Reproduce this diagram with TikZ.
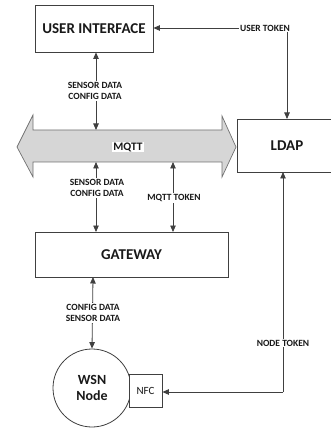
\documentclass[tikz,border=0pt]{standalone}
\usepackage{fontspec}
\setmainfont{Carlito}
\usetikzlibrary{arrows.meta}
\definecolor{ln}{HTML}{404040}
\definecolor{barfill}{HTML}{D6D6D6}
\definecolor{barline}{HTML}{707070}
\tikzset{
  box/.style={draw=ln, line width=0.8pt, fill=white, inner sep=0pt},
  conn/.style={draw=ln, line width=0.8pt},
  tip/.style={-{Triangle[length=6.5pt,width=5.5pt]}},
  dtip/.style={{Triangle[length=6.5pt,width=5.5pt]}-{Triangle[length=6.5pt,width=5.5pt]}},
  lbl/.style={font=\fontsize{9.5}{11.5}\selectfont\bfseries, text=black!90, align=center, inner sep=1pt, fill=white},
  big/.style={font=\fontsize{15}{17}\selectfont\bfseries, text=black!90}
}
\begin{document}
\begin{tikzpicture}[x=1pt,y=-1pt]
\useasboundingbox (0,0) rectangle (331,430);
\begin{scope}
\clip (0,0) rectangle (331,430);
% LDAP box (extends past right edge)
\draw[box] (237,119) rectangle (345,172);
\end{scope}
\node[big] (ldap) at (287,146) {LDAP};
\coordinate (ldapT) at (287,119);
\coordinate (ldapB) at (283,172);

% USER INTERFACE
\node[box, minimum width=118pt, minimum height=47pt, big] (ui) at (94,28.5) {USER INTERFACE};

% MQTT bar
\draw[fill=barfill, draw=barline, line width=0.7pt]
  (17,147) -- (33,115) -- (33,130) -- (222,130) -- (222,116) -- (236,147)
  -- (222,177) -- (222,162) -- (33,162) -- (33,177) -- cycle;
\node[font=\fontsize{11.5}{13}\selectfont\bfseries, fill=white, inner sep=1pt, text=black!90] (mqtt) at (128,147) {MQTT};
\coordinate (mqttTop) at (96,130);
\coordinate (mqttBotL) at (96,162);
\coordinate (mqttBotR) at (173,162);

% GATEWAY
\node[box, minimum width=193pt, minimum height=45pt, big] (gw) at (131.5,254.5) {GATEWAY};
\coordinate (gwTopL) at (96,232);
\coordinate (gwTopR) at (173,232);
\coordinate (gwBot) at (93,277);

% WSN node
\node[circle, draw=ln, line width=0.8pt, minimum size=78pt, inner sep=0pt, align=center,
  font=\fontsize{14}{16}\selectfont\bfseries, text=black!90] (wsn) at (92,388) {WSN\\Node};
\node[box, minimum width=33pt, minimum height=33pt, font=\fontsize{11}{13}\selectfont, text=black!90] (nfc) at (145.5,390.5) {NFC};

% UI <-> MQTT
\draw[conn, dtip] (ui.south -| mqttTop) -- (mqttTop);
\node[lbl] at (95,91) {SENSOR DATA\\CONFIG DATA};

% MQTT <-> GATEWAY
\draw[conn, dtip] (mqttBotL) -- (gwTopL);
\node[lbl] at (97,188) {SENSOR DATA\\CONFIG DATA};
\draw[conn, dtip] (mqttBotR) -- (gwTopR);
\node[lbl] at (174,198) {MQTT TOKEN};

% GATEWAY <-> WSN
\draw[conn, dtip] (gwBot) -- (wsn.north);
\node[lbl] at (93,313) {CONFIG DATA\\SENSOR DATA};

% USER TOKEN
\coordinate (utc) at (287,28);
\draw[conn, tip] (utc) -- (ui.east |- utc);
\draw[conn, tip] (utc) -- (ldapT);
\node[lbl] at (265,28) {USER TOKEN};

% NODE TOKEN
\coordinate (ntc) at (283,392);
\draw[conn, tip] (ntc) -- (ldapB);
\draw[conn, tip] (ntc) -- (nfc.east |- ntc);
\node[lbl] at (283,343) {NODE TOKEN};
\end{tikzpicture}
\end{document}
